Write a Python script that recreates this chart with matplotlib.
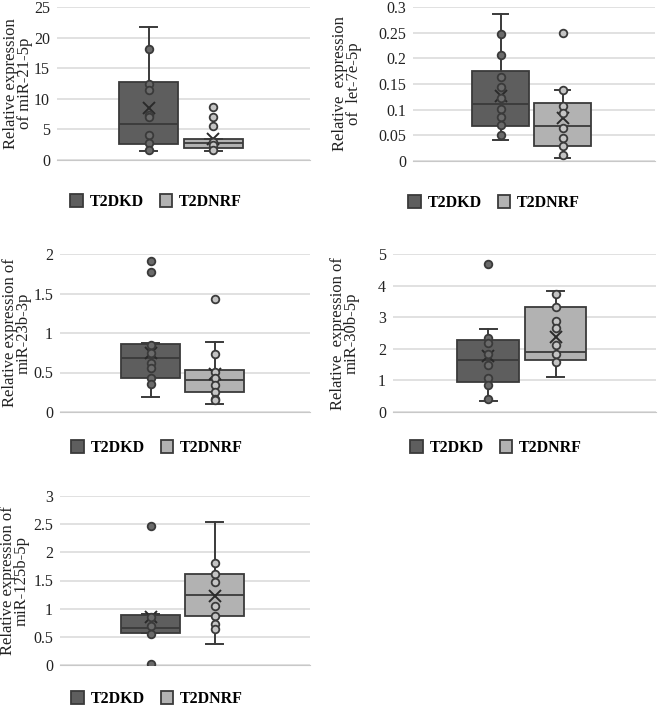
#!/usr/bin/env python3
"""Box-and-whisker panels: relative miRNA expression, T2DKD vs T2DNRF."""
import numpy as np
import matplotlib
matplotlib.use('Agg')
import matplotlib.pyplot as plt

plt.rcParams['font.family'] = ['Liberation Serif', 'DejaVu Serif']

groups = ['T2DKD', 'T2DNRF']

# box stats per group: [whisker low, q1, median, q3, whisker high, mean]
mir21_kd_box = [1.55, 2.6, 5.9, 12.8, 21.7, 8.45]
mir21_nrf_box = [1.55, 1.9, 2.7, 3.4, 3.4, 3.5]
mir21_kd_pts = [18.1, 12.5, 11.5, 7.4, 7.1, 4.1, 2.8, 1.6]
mir21_nrf_pts = [8.6, 7.0, 5.6, 3.0, 2.5, 1.7]

let7e_kd_box = [0.041, 0.069, 0.112, 0.175, 0.286, 0.127]
let7e_nrf_box = [0.0065, 0.029, 0.069, 0.113, 0.139, 0.083]
let7e_kd_pts = [0.248, 0.207, 0.164, 0.1445, 0.122, 0.102, 0.085, 0.071, 0.0505]
let7e_nrf_pts = [0.25, 0.139, 0.107, 0.093, 0.0635, 0.045, 0.030, 0.0117]

mir23b_kd_box = [0.19, 0.425, 0.68, 0.86, 0.87, 0.75]
mir23b_nrf_box = [0.098, 0.255, 0.40, 0.53, 0.885, 0.48]
mir23b_kd_pts = [1.906, 1.766, 0.85, 0.745, 0.625, 0.553, 0.425, 0.353]
mir23b_nrf_pts = [1.425, 0.736, 0.51, 0.425, 0.34, 0.255, 0.16, 0.15]

mir30b_kd_box = [0.35, 0.95, 1.66, 2.27, 2.64, 1.77]
mir30b_nrf_box = [1.11, 1.64, 1.90, 3.33, 3.83, 2.36]
mir30b_kd_pts = [4.67, 2.33, 2.17, 1.83, 1.48, 1.08, 0.85, 0.40]
mir30b_nrf_pts = [3.75, 3.33, 2.89, 2.67, 2.11, 1.83, 1.59]

mir125b_kd_box = [0.56, 0.562, 0.663, 0.888, 0.905, 0.858]
mir125b_nrf_box = [0.373, 0.87, 1.243, 1.61, 2.544, 1.23]
mir125b_kd_pts = [2.467, 0.858, 0.698, 0.544, 0.018]
mir125b_nrf_pts = [1.805, 1.61, 1.467, 1.053, 0.876, 0.728, 0.639]

ylabels = ['Relative expression\nof miR-21-5p',
           'Relative  expression\nof  let-7e-5p',
           'Relative expression of\nmiR-23b-3p',
           'Relative  expression of\nmiR-30b-5p',
           'Relative expression of\nmiR-125b-5p']
ymax = [25, 0.3, 2, 5, 3]
ystep = [5, 0.05, 0.5, 1, 0.5]

panels = [
    (mir21_kd_box, mir21_nrf_box, mir21_kd_pts, mir21_nrf_pts),
    (let7e_kd_box, let7e_nrf_box, let7e_kd_pts, let7e_nrf_pts),
    (mir23b_kd_box, mir23b_nrf_box, mir23b_kd_pts, mir23b_nrf_pts),
    (mir30b_kd_box, mir30b_nrf_box, mir30b_kd_pts, mir30b_nrf_pts),
    (mir125b_kd_box, mir125b_nrf_box, mir125b_kd_pts, mir125b_nrf_pts),
]

W, H = 658, 707
# axes rectangles in pixels: left, top, right, bottom
rects = [(57, 7, 310, 160), (413, 7, 655, 161), (60, 254, 310, 412),
         (393, 254, 656, 412), (60, 496, 310, 665)]
label_dx = [-39, -66, -43, -48, -45]
legend_pos = [(156, 202), (494, 203), (157, 448), (496, 448), (157, 699)]

fills = ['#5e5e5e', '#b2b2b2']
pt_fills = ['#6a6a6a', '#c4c4c4']
edge = '#3a3a3a'
positions = [0.362, 0.618]

fig = plt.figure(figsize=(W / 100, H / 100), dpi=100)

for i, (kd_box, nrf_box, kd_pts, nrf_pts) in enumerate(panels):
    l, t, r, b = rects[i]
    ax = fig.add_axes([l / W, 1 - b / H, (r - l) / W, (b - t) / H])
    stats = []
    for name, bx in zip(groups, [kd_box, nrf_box]):
        stats.append(dict(label=name, whislo=bx[0], q1=bx[1], med=bx[2],
                          q3=bx[3], whishi=bx[4], mean=bx[5], fliers=[]))
    bp = ax.bxp(stats, positions=positions, widths=0.235, capwidths=0.065,
                showmeans=True, showfliers=False, patch_artist=True,
                medianprops=dict(color=edge, lw=1.3),
                whiskerprops=dict(color=edge, lw=1.4),
                capprops=dict(color=edge, lw=1.4),
                meanprops=dict(marker='x', markersize=9, markeredgecolor='#2a2a2a',
                               markeredgewidth=1.4),
                zorder=3)
    for j, box in enumerate(bp['boxes']):
        box.set_facecolor(fills[j])
        box.set_edgecolor(edge)
        box.set_linewidth(1.3)
        box.set_label(groups[j])
    for j, pts in enumerate([kd_pts, nrf_pts]):
        ax.plot([positions[j]] * len(pts), pts, 'o', ms=5.5, mfc=pt_fills[j],
                mec=edge, mew=1.3, zorder=5)

    ax.set_xlim(0, 1)
    ax.set_ylim(0, ymax[i])
    ticks = np.arange(0, ymax[i] + ystep[i] / 2, ystep[i])
    ax.set_yticks(ticks)
    ax.set_yticklabels(['%g' % round(v, 3) for v in ticks], fontsize=11.5)
    ax.set_xticks([])
    ax.tick_params(axis='y', length=0, pad=5, colors='#222222')
    for s in ['top', 'right', 'left']:
        ax.spines[s].set_visible(False)
    ax.spines['bottom'].set_color('#c8c8c8')
    ax.grid(axis='y', color='#d9d9d9', lw=1.1)
    ax.set_axisbelow(True)

    ax.text(label_dx[i] / (r - l), 0.5, ylabels[i], transform=ax.transAxes,
            rotation=90, ha='center', va='center', multialignment='center',
            fontsize=12, linespacing=0.8, color='#222222')

    lx, ly = legend_pos[i]
    ax.legend(handles=bp['boxes'], loc='center', bbox_to_anchor=(lx / W, 1 - ly / H),
              bbox_transform=fig.transFigure, ncol=2, frameon=False,
              handlelength=0.8, handleheight=0.9, handletextpad=0.4,
              columnspacing=1.0, prop=dict(weight='bold', size=11.5))

plt.savefig('out.png', dpi=100)
